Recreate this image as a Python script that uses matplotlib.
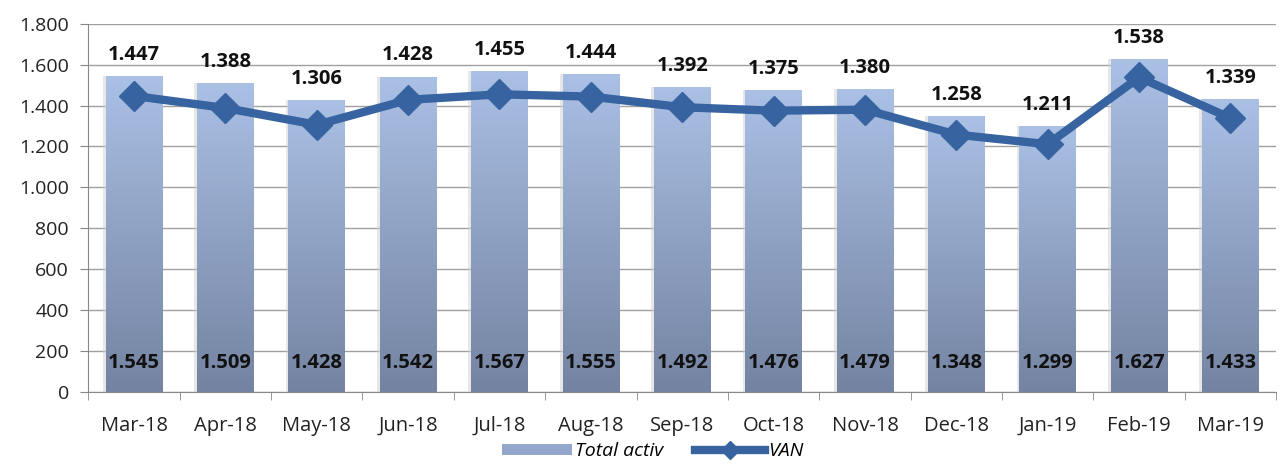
import numpy as np
import matplotlib
matplotlib.use('Agg')
import matplotlib.pyplot as plt
from matplotlib.lines import Line2D
from matplotlib.patches import Patch
from matplotlib.colors import LinearSegmentedColormap

# data
months = ['Mar-18', 'Apr-18', 'May-18', 'Jun-18', 'Jul-18', 'Aug-18', 'Sep-18',
          'Oct-18', 'Nov-18', 'Dec-18', 'Jan-19', 'Feb-19', 'Mar-19']
total_activ = [1545, 1509, 1428, 1542, 1567, 1555, 1492, 1476, 1479, 1348, 1299, 1627, 1433]
van = [1447, 1388, 1306, 1428, 1455, 1444, 1392, 1375, 1380, 1258, 1211, 1538, 1339]
yticks = [0, 200, 400, 600, 800, 1000, 1200, 1400, 1600, 1800]


def fmt(v):
    return f'{v:,}'.replace(',', '.')


plt.rcParams['font.family'] = ['Open Sans', 'DejaVu Sans']

fig = plt.figure(figsize=(12.8, 4.66), dpi=100)
ax = fig.add_axes([0.069, 0.159, 0.928, 0.79])

x = np.arange(len(months))
line_col = '#3763a0'

bars = ax.bar(x, total_activ, width=0.62, color='none', zorder=2)
cmap = LinearSegmentedColormap.from_list('g', ['#7483a1', '#aac0e5'])
grad = np.linspace(0, 1, 256).reshape(-1, 1)
for b in bars:
    bx, by = b.get_x(), b.get_y()
    w, h = b.get_width(), b.get_height()
    # soft shadow on the left
    ax.bar(bx + w / 2 - 0.03, h, width=w, color='#d0d0d0', alpha=0.5, zorder=1.5)
    im = ax.imshow(grad, extent=[bx, bx + w, by, by + h], origin='lower',
                   cmap=cmap, aspect='auto', zorder=2)
    im.set_clip_path(b)

ax.plot(x, van, color=line_col, linewidth=6, marker='D', markersize=15,
        zorder=3, solid_capstyle='round')

for i in range(len(months)):
    ax.text(x[i], 140, fmt(total_activ[i]), ha='center', va='center',
            fontsize=14.5, fontweight='bold', color='#111111', zorder=4)
    ax.annotate(fmt(van[i]), (x[i], total_activ[i]), xytext=(0, 8),
                textcoords='offset points', ha='center', va='bottom',
                fontsize=14.5, fontweight='bold', color='#111111', zorder=4)

ax.set_xlim(-0.5, len(months) - 0.5)
ax.set_ylim(0, 1800)
ax.set_yticks(yticks)
ax.set_yticklabels([fmt(v) for v in yticks], fontsize=14, color='#222222')
ax.set_xticks(x)
ax.set_xticklabels(months, fontsize=14.5, color='#222222')
ax.tick_params(axis='x', length=0, pad=17)
ax.tick_params(axis='y', length=6, color='#888888', pad=8)
ax.set_xticks(np.arange(len(months) + 1) - 0.5, minor=True)
ax.tick_params(axis='x', which='minor', length=6, color='#888888')

ax.grid(axis='y', color='#a0a0a0', linewidth=1, zorder=0)
ax.set_axisbelow(True)
for s in ['top', 'right']:
    ax.spines[s].set_visible(False)
ax.spines['left'].set_color('#888888')
ax.spines['bottom'].set_color('#888888')

handles = [Patch(facecolor='#93a6cb', edgecolor='none', label='Total activ'),
           Line2D([0], [0], color=line_col, linewidth=6, marker='D', markersize=9,
                  label='VAN')]
leg = fig.legend(handles=handles, loc='lower center', bbox_to_anchor=(0.51, -0.025),
                 ncol=2, frameon=False, prop={'size': 14, 'style': 'italic'},
                 handlelength=3.6, handleheight=0.5, columnspacing=1.6, handletextpad=0.2)

fig.savefig('out.png', dpi=100)
